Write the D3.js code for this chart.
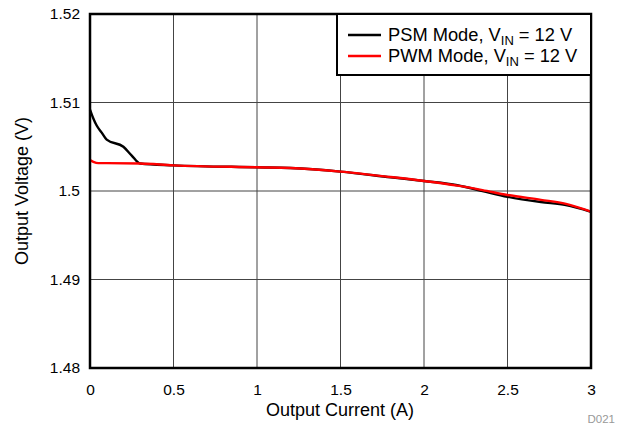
<!DOCTYPE html>
<html><head><meta charset="utf-8">
<script src="https://cdn.jsdelivr.net/npm/d3@7"></script>
<style>body{margin:0;background:#fff;} svg{display:block;font-family:"Liberation Sans",Arial,sans-serif;}</style>
</head><body>
<svg id="c" width="618" height="425"></svg>
<script>
const xTicks = [0, 0.5, 1, 1.5, 2, 2.5, 3];
const yTicks = [1.48, 1.49, 1.5, 1.51, 1.52];
const yTickLabels = ["1.48", "1.49", "1.5", "1.51", "1.52"];
const psmX = [0, 0.02, 0.04, 0.07, 0.1, 0.2, 0.25, 0.3, 0.5, 1.0, 1.2, 1.5, 1.8, 2.0, 2.2, 2.35, 2.5, 2.7, 2.85, 3.0];
const psmV = [1.5092, 1.5082, 1.5074, 1.5066, 1.5058, 1.5050, 1.5040, 1.5031, 1.5029, 1.50268, 1.5026, 1.50219, 1.50155, 1.50113, 1.50065, 1.5000, 1.49935, 1.49875, 1.4984, 1.49765];
const pwmX = [0, 0.02, 0.05, 0.1, 0.3, 0.5, 1.0, 1.2, 1.5, 1.8, 2.0, 2.2, 2.35, 2.5, 2.7, 2.85, 3.0];
const pwmV = [1.5035, 1.5033, 1.50315, 1.50315, 1.5031, 1.5029, 1.50268, 1.5026, 1.50219, 1.50158, 1.50113, 1.5006, 1.5001, 1.49955, 1.4990, 1.49855, 1.49768];
const seriesNames = ["PSM Mode, V", "PWM Mode, V"];
const seriesColors = ["#000000", "#ff0000"];

const svg = d3.select("#c");
const L = 90, R = 591, T = 14, B = 368;
const x = d3.scaleLinear().domain([0, 3]).range([L, R]);
const y = d3.scaleLinear().domain([1.48, 1.52]).range([B, T]);
const FONT = "Liberation Sans, Arial, sans-serif";

// grid
const g = svg.append("g");
g.selectAll(".vx").data(xTicks.slice(1, -1)).join("line")
  .attr("x1", d => x(d)).attr("x2", d => x(d)).attr("y1", T).attr("y2", B)
  .attr("stroke", "#444").attr("stroke-width", 1);
g.selectAll(".hy").data(yTicks.slice(1, -1)).join("line")
  .attr("y1", d => y(d)).attr("y2", d => y(d)).attr("x1", L).attr("x2", R)
  .attr("stroke", "#444").attr("stroke-width", 1);

// axes labels
const xAxis = d3.axisBottom(x).tickValues(xTicks).tickSize(0).tickPadding(16).tickFormat(d3.format("~g"));
const xa = svg.append("g").attr("transform", `translate(0,${B})`).call(xAxis);
xa.select(".domain").remove();
xa.selectAll("text").attr("font-size", 15.5).attr("fill", "#000").attr("font-family", FONT);
const yAxis = d3.axisLeft(y).tickValues(yTicks).tickSize(0).tickPadding(10).tickFormat((d, i) => yTickLabels[i]);
const ya = svg.append("g").attr("transform", `translate(${L},0)`).call(yAxis);
ya.select(".domain").remove();
ya.selectAll("text").attr("font-size", 15.5).attr("fill", "#000").attr("font-family", FONT);

// lines
const line = d3.line().x(d => x(d[0])).y(d => y(d[1])).curve(d3.curveMonotoneX);
svg.append("path").datum(psmX.map((v, i) => [v, psmV[i]])).attr("d", line)
  .attr("fill", "none").attr("stroke", seriesColors[0]).attr("stroke-width", 2.4);
svg.append("path").datum(pwmX.map((v, i) => [v, pwmV[i]])).attr("d", line)
  .attr("fill", "none").attr("stroke", seriesColors[1]).attr("stroke-width", 2.4);

// frame
svg.append("rect").attr("x", L).attr("y", T).attr("width", R - L).attr("height", B - T)
  .attr("fill", "none").attr("stroke", "#000").attr("stroke-width", 2.5);

// legend
const lg = svg.append("g");
lg.append("rect").attr("x", 337).attr("y", T).attr("width", R - 337).attr("height", 61)
  .attr("fill", "#fff").attr("stroke", "#000").attr("stroke-width", 2);
seriesNames.forEach((n, i) => {
  const yy = 35 + i * 21;
  lg.append("line").attr("x1", 348).attr("x2", 381).attr("y1", yy).attr("y2", yy)
    .attr("stroke", seriesColors[i]).attr("stroke-width", 2.4);
  const t = lg.append("text").attr("x", 388).attr("y", yy + 6).attr("font-size", 18.3).attr("fill", "#000");
  t.append("tspan").text(n);
  t.append("tspan").attr("dy", 4).attr("font-size", 13).text("IN");
  t.append("tspan").attr("dy", -4).text(" = 12 V");
});

// titles
svg.append("text").attr("x", 340).attr("y", 416).attr("text-anchor", "middle")
  .attr("font-size", 18).text("Output Current (A)");
svg.append("text").attr("transform", `translate(28,${(T + B) / 2}) rotate(-90)`).attr("text-anchor", "middle")
  .attr("font-size", 18).text("Output Voltage (V)");
svg.append("text").attr("x", 615).attr("y", 423).attr("text-anchor", "end")
  .attr("font-size", 11.5).attr("fill", "#999").text("D021");
</script>
</body></html>
